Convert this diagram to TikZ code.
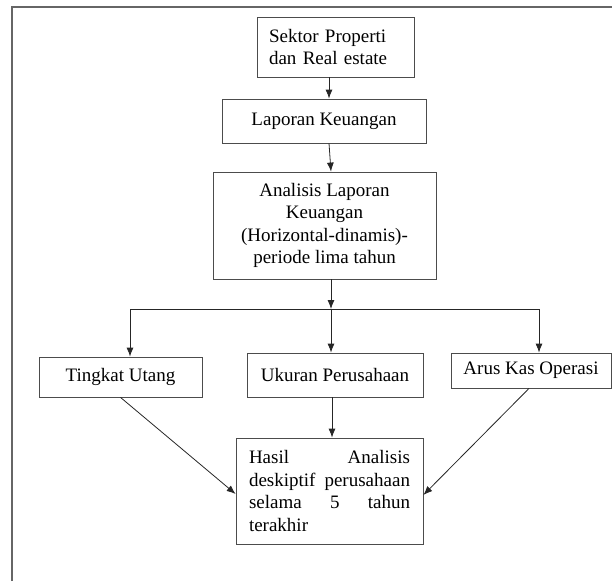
\documentclass[tikz,border=0pt]{standalone}
\usepackage{fontspec}
\setmainfont{Liberation Serif}
\usetikzlibrary{arrows.meta}
\hyphenpenalty=10000
\exhyphenpenalty=10000
\begin{document}
\begin{tikzpicture}[x=1pt,y=-1pt,line width=0.8pt,
    box/.style={draw=black!70,inner sep=0pt,align=center,font=\fontsize{19}{22.5}\selectfont},
    arr/.style={draw=black!85,-{Latex[length=9pt,width=7pt]}}]
\useasboundingbox (0,0) rectangle (612,581);
\draw[black!60,line width=1.2pt] (12,581) -- (12,7) -- (612,7);
\node[box,minimum width=157pt,minimum height=60pt,text width=133pt,align=left] (sektor) at (335.5,47)
    {Sektor Properti\\dan Real estate};
\node[box,minimum width=204pt,minimum height=44pt] (laporan) at (324,121) {Laporan Keuangan};
\node[box,minimum width=223pt,minimum height=107pt] (analisis) at (324.5,225.5)
    {Analisis Laporan\\Keuangan\\(Horizontal-dinamis)-\\periode lima tahun};
\node[box,minimum width=163pt,minimum height=40pt] (utang) at (120.5,377) {Tingkat Utang};
\node[box,minimum width=176pt,minimum height=44pt] (ukuran) at (335,375) {Ukuran Perusahaan};
\node[box,minimum width=160pt,minimum height=35pt] (arus) at (531,370.5) {Arus Kas Operasi};
\node[box,minimum width=187pt,minimum height=106pt,text width=161pt,align=justify] (hasil) at (329.5,491)
    {Hasil Analisis deskiptif perusahaan selama 5 tahun terakhir};
\coordinate (cabang) at (331,309);
\draw[arr] ([xshift=-6.5pt]sektor.south) -- ([xshift=5pt]laporan.north);
\draw[arr] ([xshift=5pt]laporan.south) -- ([xshift=6.5pt]analisis.north);
\draw[arr] ([xshift=6.5pt]analisis.south) -- (cabang);
\draw[arr] (cabang) -| ([xshift=9.5pt]utang.north);
\draw[arr] (cabang) -- (cabang |- ukuran.north);
\draw[arr] (cabang) -| ([xshift=8pt]arus.north);
\draw[arr] ([xshift=-3pt]ukuran.south) -- ([xshift=2.5pt]hasil.north);
\draw[arr] (utang.south) -- ([yshift=-3pt]hasil.west);
\draw[arr] ([xshift=-2pt]arus.south) -- ([yshift=-4pt]hasil.east);
\end{tikzpicture}
\end{document}
